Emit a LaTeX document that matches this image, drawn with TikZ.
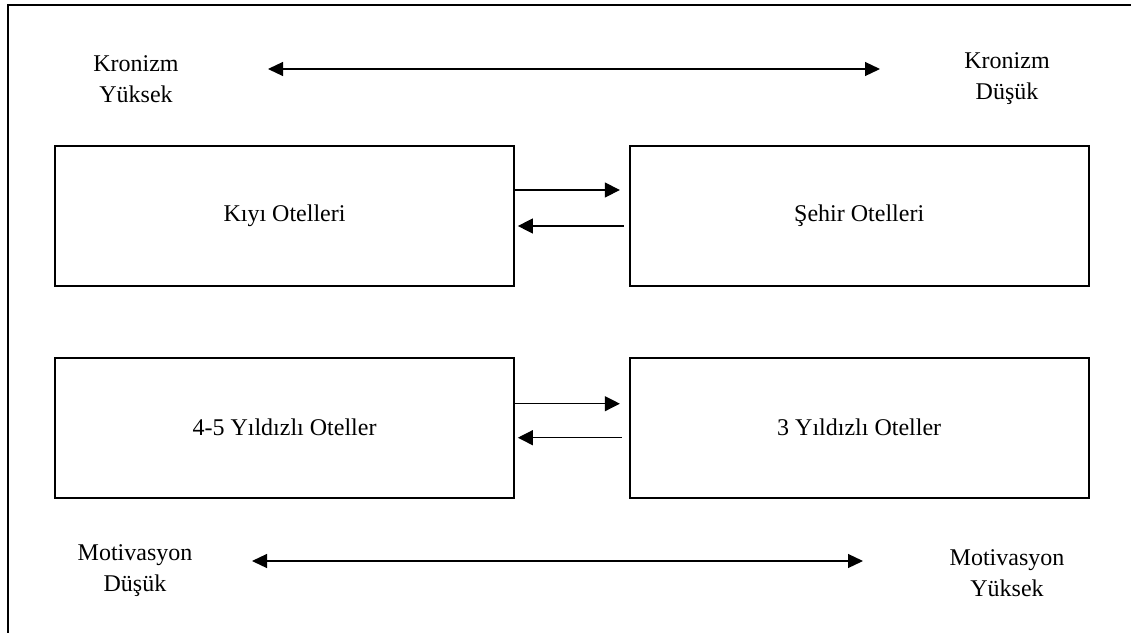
\documentclass[tikz,border=0pt]{standalone}
\usepackage{fontspec}
\setmainfont{Liberation Serif}
\usetikzlibrary{calc, positioning, arrows.meta}

\begin{document}
\begin{tikzpicture}[x=0.5pt, y=-0.5pt,
    otel/.style={draw, line width=0.85pt, minimum width=229.5pt, minimum height=70pt, inner sep=0pt, font=\fontsize{12}{16}\selectfont},
    etiket/.style={align=center, inner sep=0pt, font=\fontsize{12}{15.5}\selectfont},
    ok/.style={-{Triangle[length=7.5pt, width=7.5pt]}, line width=0.6pt},
    ciftok/.style={{Triangle[length=7.5pt, width=7pt]}-{Triangle[length=7.5pt, width=7pt]}, line width=0.6pt}]
    \useasboundingbox (0,0) rectangle (1131,633);
    % Frame
    \draw[line width=1pt] (1131,5) -- (8,5) -- (8,633);

    % Kronizm scale
    \node[etiket] (kronY) at (136,79) {Kronizm\\Yüksek};
    \node[etiket] (kronD) at (1007,79) {Kronizm\\Düşük};
    \coordinate (kronL) at (268,69);
    \coordinate (kronR) at (880,69);
    \draw[ciftok] (kronL) -- (kronR);

    % Hotel types
    \node[otel] (kiyi) at (284.5,216) {Kıyı Otelleri};
    \node[otel, right=57pt of kiyi] (sehir) {Şehir Otelleri};
    \node[otel, below=35pt of kiyi] (yildiz45) {4-5 Yıldızlı Oteller};
    \node[otel, below=35pt of sehir] (yildiz3) {3 Yıldızlı Oteller};

    \draw[ok, shorten >=4.5pt] ([yshift=13pt]kiyi.east) -- ([yshift=13pt]sehir.west);
    \draw[ok, shorten <=2.5pt, shorten >=1.5pt] ([yshift=-5pt]sehir.west) -- ([yshift=-5pt]kiyi.east);
    \draw[ok, shorten >=4.5pt] ([yshift=12pt]yildiz45.east) -- ([yshift=12pt]yildiz3.west);
    \draw[ok, shorten <=3.5pt, shorten >=1.5pt] ([yshift=-5pt]yildiz3.west) -- ([yshift=-5pt]yildiz45.east);

    % Motivasyon scale
    \node[etiket] (motD) at (135,571) {Motivasyon\\Düşük};
    \node[etiket] (motY) at (1007,573) {Motivasyon\\Yüksek};
    \coordinate (motL) at (252,561);
    \coordinate (motR) at (863,561);
    \draw[ciftok] (motL) -- (motR);
\end{tikzpicture}
\end{document}
